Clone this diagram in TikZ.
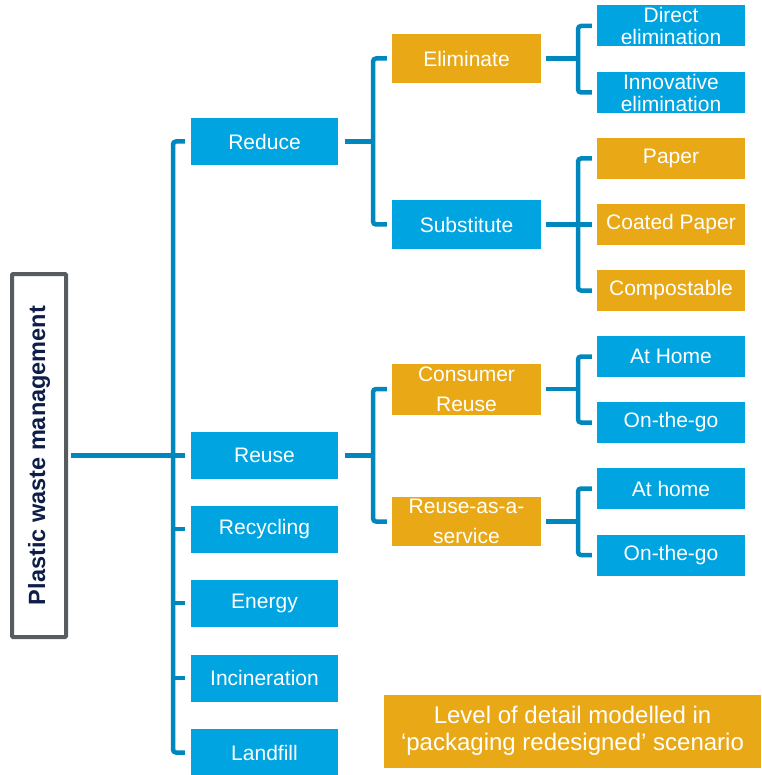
\documentclass[tikz,border=0pt]{standalone}
\usepackage{fontspec}
\setmainfont{Liberation Sans}
\definecolor{boxblue}{RGB}{0,164,224}
\definecolor{lineblue}{RGB}{0,135,190}
\definecolor{boxorange}{RGB}{233,169,23}
\definecolor{rootgray}{RGB}{89,92,95}
\definecolor{navy}{RGB}{14,30,72}
\tikzset{
  box/.style={rectangle, text=white, inner sep=0pt, align=center,
    font=\fontsize{21}{22}\selectfont},
  bluebox/.style={box, fill=boxblue},
  orbox/.style={box, fill=boxorange},
  lone/.style={minimum width=147pt, minimum height=47pt},
  ltwo/.style={minimum width=149pt, minimum height=49pt},
  lthree/.style={minimum width=148pt, minimum height=41pt},
  conn/.style={draw=lineblue, line width=4.5pt, rounded corners=3pt},
}
\begin{document}
\begin{tikzpicture}[x=1pt,y=-1pt]
\useasboundingbox (0,0) rectangle (761,775);
% root
\node[draw=rootgray, line width=4pt, rounded corners=1pt, fill=white,
  minimum width=54pt, minimum height=363pt, inner sep=0pt] (root) at (39,455.5) {};
\node[rotate=90, text=navy, font=\fontsize{23.5}{25}\bfseries] (roottext) at (root.center) {Plastic waste management};
% level 1
\node[bluebox, lone] (reduce) at (264.5,141.5) {Reduce};
\node[bluebox, lone] (reuse) at (264.5,455.5) {Reuse};
\node[bluebox, lone] (recycling) at (264.5,529) {Recycling};
\node[bluebox, lone] (energy) at (264.5,603) {Energy};
\node[bluebox, lone] (incin) at (264.5,678) {Incineration};
\node[bluebox, lone] (landfill) at (264.5,752.5) {Landfill};
% level 2
\node[orbox, ltwo] (elim) at (466.5,58.5) {Eliminate};
\node[bluebox, ltwo] (subst) at (466.5,224.5) {Substitute};
\node[orbox, ltwo, minimum height=51pt, font=\fontsize{21}{30}\selectfont] (consumer) at (466.5,389) {Consumer\\Reuse};
\node[orbox, ltwo, font=\fontsize{21}{30}\selectfont] (raas) at (466.5,521.5) {Reuse-as-a-\\service};
% level 3
\node[bluebox, lthree] (direct) at (671,26) {Direct\\elimination};
\node[bluebox, lthree] (innov) at (671,92.5) {Innovative\\elimination};
\node[orbox, lthree] (paper) at (671,158.5) {Paper};
\node[orbox, lthree] (coated) at (671,224.5) {Coated Paper};
\node[orbox, lthree] (compost) at (671,290.5) {Compostable};
\node[bluebox, lthree] (athome) at (671,356.5) {At Home};
\node[bluebox, lthree] (otgone) at (671,422.5) {On-the-go};
\node[bluebox, lthree] (athometwo) at (671,488.5) {At home};
\node[bluebox, lthree] (otgtwo) at (671,555) {On-the-go};
% legend
\node[orbox, minimum width=377pt, minimum height=73pt, font=\fontsize{24}{27}\selectfont] (legend) at (572.5,731) {Level of detail modelled in\\‘packaging redesigned’ scenario};
% junction coordinates
\coordinate (trunk) at (173,455.5);
\coordinate (bA) at (373,141.5);
\coordinate (bB) at (578,58.5);
\coordinate (bC) at (578,224.5);
\coordinate (bD) at (373,455.5);
\coordinate (bE) at (578,389);
\coordinate (bF) at (578,521.5);
% trunk
\draw[conn, shorten <=2.5pt] (root.east) -- (trunk);
\draw[conn, shorten <=6pt, shorten >=6pt] (reduce.west) -| (trunk) |- (landfill.west);
\foreach \n in {reuse,recycling,energy,incin}
  \draw[conn, shorten >=6pt] (\n.west -| trunk) -- (\n.west);
% reduce
\draw[conn, shorten <=7pt] (reduce.east) -- (bA);
\draw[conn, shorten <=5pt, shorten >=5pt] (elim.west) -| (bA) |- (subst.west);
\draw[conn, shorten <=5pt] (elim.east) -- (bB);
\draw[conn, shorten <=5pt, shorten >=5pt] (direct.west) -| (bB) |- (innov.west);
\draw[conn, shorten <=5pt] (subst.east) -- (bC);
\draw[conn, shorten <=5pt, shorten >=5pt] (paper.west) -| (bC) |- (compost.west);
\draw[conn, shorten >=5pt] (bC) -- (coated.west);
% reuse
\draw[conn, shorten <=7pt] (reuse.east) -- (bD);
\draw[conn, shorten <=5pt, shorten >=5pt] (consumer.west) -| (bD) |- (raas.west);
\draw[conn, shorten <=5pt] (consumer.east) -- (bE);
\draw[conn, shorten <=5pt, shorten >=5pt] (athome.west) -| (bE) |- (otgone.west);
\draw[conn, shorten <=5pt] (raas.east) -- (bF);
\draw[conn, shorten <=5pt, shorten >=5pt] (athometwo.west) -| (bF) |- (otgtwo.west);
\end{tikzpicture}
\end{document}
